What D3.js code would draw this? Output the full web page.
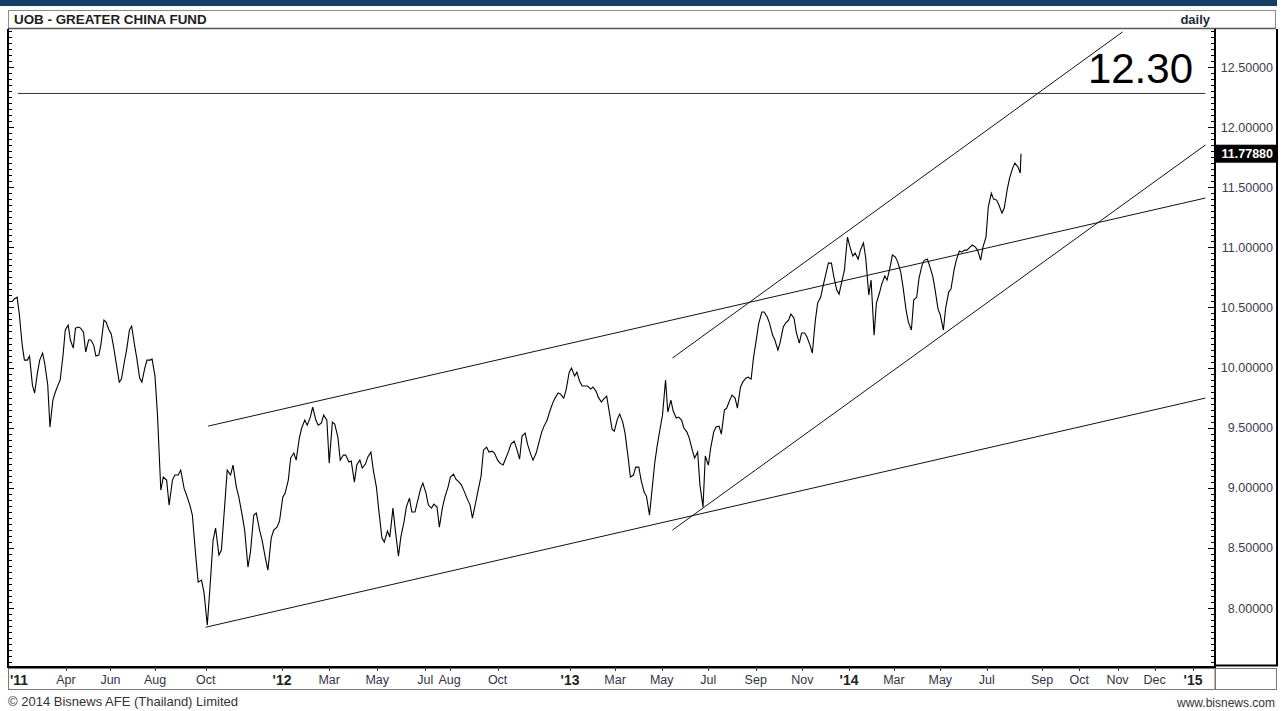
<!DOCTYPE html>
<html>
<head>
<meta charset="utf-8">
<script src="https://cdnjs.cloudflare.com/ajax/libs/d3/7.8.5/d3.min.js"></script>
<style>
  body { margin: 0; background: #fff; }
  text { font-family: "Liberation Sans", Arial, sans-serif; }
</style>
</head>
<body>
<svg id="chart" width="1283" height="711"></svg>
<script>
// NAV: [Monday, Thursday] of each week, from the week of 17 Jan 2011
const navStart = "2011-01-17";
const navWeeks = [
  [10.545, 10.57], [10.586, 10.445], [10.187, 10.062], [10.062, 10.095], [9.854, 9.788],
  [9.962, 10.062], [10.12, 10.029], [9.854, 9.505], [9.729, 9.788], [9.854, 9.896],
  [10.104, 10.312], [10.353, 10.229], [10.162, 10.328], [10.337, 10.328], [10.295, 10.129],
  [10.229, 10.229], [10.187, 10.095], [10.104, 10.195], [10.395, 10.378], [10.312, 10.279],
  [10.145, 10.029], [9.879, 9.904], [10.046, 10.145], [10.312, 10.345], [10.187, 10.079],
  [9.912, 9.879], [9.995, 10.062], [10.062, 10.07], [9.929, 9.604], [8.981, 9.089],
  [9.064, 8.856], [9.064, 9.106], [9.106, 9.147], [8.997, 8.939], [8.856, 8.773],
  [8.44, 8.215], [8.232, 8.132], [7.858, 8.149], [8.565, 8.664], [8.44, 8.482],
  [8.856, 9.147], [9.106, 9.189], [9.006, 8.923], [8.773, 8.648], [8.34, 8.465],
  [8.773, 8.79], [8.648, 8.565], [8.415, 8.315], [8.581, 8.648], [8.673, 8.723],
  [8.922, 8.956], [9.064, 9.247], [9.289, 9.23], [9.413, 9.497], [9.563, 9.521],
  [9.588, 9.671], [9.563, 9.521], [9.538, 9.605], [9.563, 9.205], [9.546, 9.53],
  [9.422, 9.23], [9.272, 9.272], [9.214, 9.222], [9.047, 9.189], [9.23, 9.164],
  [9.197, 9.255], [9.297, 9.147], [9.006, 8.814], [8.581, 8.548], [8.64, 8.59],
  [8.831, 8.648], [8.432, 8.59], [8.714, 8.839], [8.914, 8.798], [8.798, 8.881],
  [8.989, 9.039], [8.956, 8.856], [8.831, 8.864], [8.839, 8.673], [8.839, 8.923],
  [9.006, 9.089], [9.114, 9.072], [9.047, 9.022], [8.964, 8.914], [8.856, 8.748],
  [8.873, 8.972], [9.097, 9.313], [9.338, 9.297], [9.305, 9.289], [9.23, 9.205],
  [9.189, 9.239], [9.305, 9.363], [9.388, 9.33], [9.239, 9.43], [9.455, 9.363],
  [9.28, 9.23], [9.289, 9.363], [9.463, 9.513], [9.563, 9.63], [9.704, 9.746],
  [9.788, 9.779], [9.746, 9.813], [9.962, 9.996], [9.929, 9.962], [9.879, 9.846],
  [9.846, 9.846], [9.821, 9.838], [9.804, 9.754], [9.713, 9.738], [9.763, 9.646],
  [9.488, 9.471], [9.571, 9.613], [9.546, 9.455], [9.255, 9.089], [9.106, 9.172],
  [9.172, 9.064], [8.964, 8.931], [8.773, 8.964], [9.214, 9.347], [9.497, 9.604],
  [9.896, 9.63], [9.729, 9.638], [9.58, 9.588], [9.563, 9.497], [9.463, 9.413],
  [9.313, 9.247], [9.297, 9.022], [8.839, 9.264], [9.189, 9.33], [9.463, 9.505],
  [9.513, 9.446], [9.646, 9.663], [9.729, 9.771], [9.746, 9.663], [9.837, 9.879],
  [9.912, 9.92], [9.904, 10.079], [10.245, 10.37], [10.462, 10.462], [10.42, 10.37],
  [10.27, 10.229], [10.145, 10.212], [10.337, 10.37], [10.395, 10.445], [10.412, 10.295],
  [10.204, 10.287], [10.287, 10.254], [10.187, 10.12], [10.395, 10.536], [10.586, 10.678],
  [10.786, 10.869], [10.869, 10.761], [10.645, 10.611], [10.728, 10.811], [11.085, 11.01],
  [10.927, 10.952], [10.902, 10.977], [11.036, 10.91], [10.603, 10.728], [10.27, 10.536],
  [10.62, 10.694], [10.761, 10.728], [10.836, 10.936], [10.919, 10.877], [10.794, 10.669],
  [10.478, 10.378], [10.312, 10.561], [10.586, 10.744], [10.852, 10.894], [10.902, 10.844],
  [10.761, 10.653], [10.486, 10.437], [10.312, 10.495], [10.628, 10.653], [10.811, 10.894],
  [10.969, 10.96], [10.977, 10.977], [11.002, 11.019], [11.002, 10.977], [10.894, 11.002],
  [11.085, 11.335], [11.451, 11.401], [11.393, 11.352], [11.285, 11.327], [11.485, 11.576],
  [11.659, 11.701], [11.668, 11.618]
];
const lastClose = { date: "2014-08-15", value: 11.7788 };

const yTicks = [8.0, 8.5, 9.0, 9.5, 10.0, 10.5, 11.0, 11.5, 12.0, 12.5];

const monthTicks = [
  ["2011-04-01", "Apr"], ["2011-06-01", "Jun"], ["2011-08-01", "Aug"], ["2011-10-01", "Oct"],
  ["2012-03-01", "Mar"], ["2012-05-01", "May"], ["2012-07-01", "Jul"], ["2012-08-01", "Aug"],
  ["2012-10-01", "Oct"], ["2013-03-01", "Mar"], ["2013-05-01", "May"], ["2013-07-01", "Jul"],
  ["2013-09-01", "Sep"], ["2013-11-01", "Nov"], ["2014-03-01", "Mar"], ["2014-05-01", "May"],
  ["2014-07-01", "Jul"], ["2014-09-01", "Sep"], ["2014-10-01", "Oct"], ["2014-11-01", "Nov"],
  ["2014-12-01", "Dec"]
];
const yearTicks = [["2012-01-01", "'12"], ["2013-01-01", "'13"], ["2014-01-01", "'14"], ["2015-01-01", "'15"]];
const firstYearLabel = "'11";

// drawn trend lines [date, value] -> [date, value]
const trendLines = [
  [["2011-10-04", 9.513], ["2015-01-11", 11.41]],
  [["2011-10-01", 7.84], ["2015-01-11", 9.746]],
  [["2013-05-15", 10.079], ["2014-11-05", 12.791]],
  [["2013-05-15", 8.648], ["2015-01-11", 11.851]]
];
const targetLevel = { from: "2011-01-25", to: "2015-01-11", value: 12.28, label: "12.30" };

const title = "UOB - GREATER CHINA FUND";
const period = "daily";
const copyright = "\u00a9 2014 Bisnews AFE (Thailand) Limited";
const site = "www.bisnews.com";

// ---- layout ----
const plot = { left: 8, right: 1215, top: 29, bottom: 667 };
const parse = d3.timeParse("%Y-%m-%d");

const svg = d3.select("#chart");

// the axis is trading-day based, so its spacing is calibrated piecewise
const x = d3.scaleTime()
  .domain(["2011-01-17", "2011-08-01", "2012-01-01", "2013-01-01", "2014-01-01", "2014-08-15", "2015-01-01"].map(parse))
  .range([12, 155, 282, 570, 849, 1021, 1193]);
const y = d3.scaleLinear().domain([8, 12.5]).range([608, 67]);

const nav = [];
navWeeks.forEach((wk, i) => {
  const mon = d3.timeWeek.offset(parse(navStart), i);
  nav.push({ date: mon, value: wk[0] });
  nav.push({ date: d3.timeDay.offset(mon, 3), value: wk[1] });
});
nav.push({ date: parse(lastClose.date), value: lastClose.value });

// top band + header
svg.append("rect").attr("x", 0).attr("y", 0).attr("width", 1277).attr("height", 6).attr("fill", "#163d66");
svg.append("rect").attr("x", 8.5).attr("y", 10.5).attr("width", 1267).attr("height", 18)
  .attr("fill", "#fff").attr("stroke", "#8a8a8a");
svg.append("line").attr("x1", 8).attr("x2", 1276).attr("y1", 28.5).attr("y2", 28.5).attr("stroke", "#555").attr("stroke-width", 1.5);
svg.append("text").attr("x", 14).attr("y", 23.5).attr("font-size", 13.4).attr("font-weight", "bold")
  .attr("fill", "#1e1e1e").text(title);
svg.append("text").attr("x", 1210).attr("y", 23.5).attr("font-size", 13).attr("font-weight", "bold")
  .attr("text-anchor", "end").attr("fill", "#1e2a3a").text(period);

// clip for plot
svg.append("clipPath").attr("id", "plotClip").append("rect")
  .attr("x", plot.left).attr("y", plot.top).attr("width", plot.right - plot.left).attr("height", plot.bottom - plot.top);
const g = svg.append("g").attr("clip-path", "url(#plotClip)");

// target level
g.append("line")
  .attr("x1", x(parse(targetLevel.from))).attr("x2", x(parse(targetLevel.to)))
  .attr("y1", y(targetLevel.value)).attr("y2", y(targetLevel.value))
  .attr("stroke", "#333").attr("stroke-width", 1);
svg.append("text").attr("x", 1193).attr("y", 83).attr("font-size", 42).attr("text-anchor", "end")
  .attr("fill", "#000").text(targetLevel.label);

// trend lines
g.selectAll("line.trend").data(trendLines).join("line").attr("class", "trend")
  .attr("x1", d => x(parse(d[0][0]))).attr("y1", d => y(d[0][1]))
  .attr("x2", d => x(parse(d[1][0]))).attr("y2", d => y(d[1][1]))
  .attr("stroke", "#111").attr("stroke-width", 1);

// NAV line
g.append("path").datum(nav)
  .attr("fill", "none").attr("stroke", "#000").attr("stroke-width", 1.1)
  .attr("d", d3.line().x(d => x(d.date)).y(d => y(d.value)));

// left frame with minor ticks
const minor = d3.range(151, 258).map(i => i * 0.05);
const isMajor = d => Math.abs(d * 2 - Math.round(d * 2)) < 1e-6;
const inPlot = minor.filter(v => y(v) > plot.top && y(v) < plot.bottom);
svg.append("line").attr("x1", plot.left).attr("x2", plot.left).attr("y1", plot.top).attr("y2", plot.bottom + 1)
  .attr("stroke", "#000").attr("stroke-width", 2);
svg.selectAll("line.lt").data(inPlot).join("line").attr("class", "lt")
  .attr("x1", plot.left).attr("x2", d => plot.left + (isMajor(d) ? 6 : 4))
  .attr("y1", d => Math.round(y(d)) + 0.5).attr("y2", d => Math.round(y(d)) + 0.5)
  .attr("stroke", "#000").attr("stroke-width", 1);

// right axis
svg.append("line").attr("x1", plot.right).attr("x2", plot.right).attr("y1", plot.top).attr("y2", plot.bottom)
  .attr("stroke", "#000").attr("stroke-width", 2);
svg.selectAll("line.rt").data(inPlot).join("line").attr("class", "rt")
  .attr("x1", plot.right).attr("x2", d => plot.right - (isMajor(d) ? 7 : 4))
  .attr("y1", d => Math.round(y(d)) + 0.5).attr("y2", d => Math.round(y(d)) + 0.5)
  .attr("stroke", "#000").attr("stroke-width", 1);
svg.append("line").attr("x1", 1277).attr("x2", 1277).attr("y1", plot.top).attr("y2", 666)
  .attr("stroke", "#000").attr("stroke-width", 2);
svg.append("line").attr("x1", plot.right).attr("x2", 1278).attr("y1", 665.5).attr("y2", 665.5)
  .attr("stroke", "#000").attr("stroke-width", 2);
const fmt = d3.format(".5f");
svg.selectAll("text.yl").data(yTicks).join("text").attr("class", "yl")
  .attr("x", 1273).attr("y", d => y(d)).attr("dy", "0.36em").attr("text-anchor", "end")
  .attr("font-size", 12.5).attr("fill", "#3c3c50").text(d => fmt(d));

// last price box
svg.append("rect").attr("x", 1216).attr("y", y(lastClose.value) - 9).attr("width", 60).attr("height", 18).attr("fill", "#000");
svg.append("text").attr("x", 1273).attr("y", y(lastClose.value)).attr("dy", "0.36em").attr("text-anchor", "end")
  .attr("font-size", 12.5).attr("font-weight", "bold").attr("fill", "#fff").text(fmt(lastClose.value));

// x axis band
svg.append("line").attr("x1", plot.left - 1).attr("x2", plot.right + 1).attr("y1", plot.bottom).attr("y2", plot.bottom)
  .attr("stroke", "#000").attr("stroke-width", 2);
svg.append("rect").attr("x", 8.5).attr("y", 668.5).attr("width", plot.right - 8.5).attr("height", 21)
  .attr("fill", "none").attr("stroke", "#777");
svg.append("rect").attr("x", plot.right + 0.5).attr("y", 668.5).attr("width", 1277 - plot.right - 1).attr("height", 21)
  .attr("fill", "none").attr("stroke", "#777");
const allTicks = monthTicks.concat(yearTicks);
svg.selectAll("line.xt").data(allTicks).join("line").attr("class", "xt")
  .attr("x1", d => Math.round(x(parse(d[0]))) + 0.5).attr("x2", d => Math.round(x(parse(d[0]))) + 0.5)
  .attr("y1", plot.bottom).attr("y2", plot.bottom + 4).attr("stroke", "#333");
svg.selectAll("text.xm").data(monthTicks).join("text").attr("class", "xm")
  .attr("x", d => x(parse(d[0]))).attr("y", 684).attr("text-anchor", "middle")
  .attr("font-size", 12.5).attr("fill", "#333344").text(d => d[1]);
svg.selectAll("text.xy").data(yearTicks).join("text").attr("class", "xy")
  .attr("x", d => x(parse(d[0]))).attr("y", 684.5).attr("text-anchor", "middle")
  .attr("font-size", 14).attr("font-weight", "bold").attr("fill", "#222").text(d => d[1]);
svg.append("text").attr("x", 10).attr("y", 684.5).attr("font-size", 14).attr("font-weight", "bold")
  .attr("fill", "#222").text(firstYearLabel);

// footer
svg.append("text").attr("x", 8).attr("y", 706).attr("font-size", 13).attr("fill", "#333").text(copyright);
svg.append("text").attr("x", 1275).attr("y", 707).attr("font-size", 12).attr("text-anchor", "end")
  .attr("fill", "#333").text(site);
</script>
</body>
</html>
